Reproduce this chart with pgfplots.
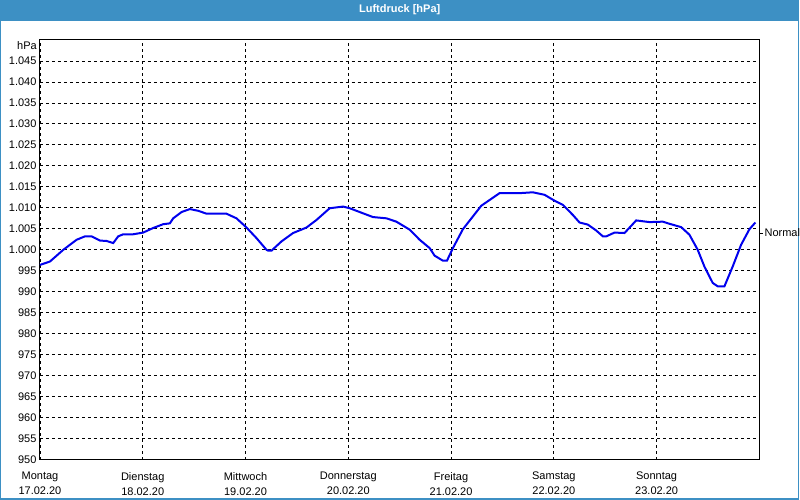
\documentclass[border=0pt]{standalone}
\usepackage{pgfplots}
\pgfplotsset{compat=1.18}
\usepackage{fontspec}
\setmainfont{Liberation Sans}
\definecolor{barc}{HTML}{3D90C4}
\definecolor{linec}{HTML}{0000EE}
\pgfplotstableread{
d p
0 996.4
0.097 997.2
0.227 1000
0.357 1002.4
0.438 1003.2
0.503 1003.2
0.583 1002.2
0.648 1002.1
0.713 1001.6
0.761 1003.2
0.810 1003.7
0.907 1003.7
1.004 1004.1
1.102 1005.2
1.199 1006.1
1.264 1006.3
1.296 1007.5
1.378 1009.0
1.458 1009.7
1.539 1009.3
1.621 1008.6
1.815 1008.6
1.912 1007.5
2.010 1005.3
2.106 1002.8
2.204 1000.0
2.220 999.8
2.253 999.8
2.350 1002.0
2.463 1004.0
2.593 1005.3
2.690 1007.1
2.819 1009.9
2.949 1010.3
3.014 1009.9
3.143 1008.7
3.240 1007.8
3.371 1007.5
3.468 1006.7
3.597 1004.8
3.694 1002.4
3.792 1000.4
3.840 998.6
3.921 997.4
3.960 997.4
4.018 1000.4
4.115 1004.9
4.294 1010.5
4.472 1013.5
4.667 1013.5
4.796 1013.7
4.910 1013.1
5.007 1011.7
5.088 1010.7
5.185 1008.3
5.250 1006.5
5.331 1006.0
5.412 1004.6
5.477 1003.2
5.510 1003.2
5.590 1004.1
5.688 1004.0
5.801 1007.0
5.931 1006.6
6.060 1006.7
6.125 1006.2
6.239 1005.4
6.319 1003.6
6.400 1000.0
6.465 996.0
6.546 992.1
6.594 991.3
6.660 991.3
6.740 996.0
6.822 1001.2
6.903 1004.9
6.961 1006.5
}\datatable
\begin{document}
\begin{tikzpicture}[font=\fontsize{11}{13}\selectfont]
\fill[white] (0pt,0pt) rectangle (800pt,500pt);
\fill[barc] (0pt,480pt) rectangle (800pt,500pt);
\draw[barc, line width=1.5pt] (0.75pt,0.75pt) rectangle (799.25pt,480pt);
\node[white, font=\fontsize{11}{13}\selectfont\bfseries] at (400pt,490pt) {Luftdruck [hPa]};
\begin{axis}[
  at={(40pt,40pt)}, anchor=south west,
  scale only axis, width=720pt, height=420pt,
  xmin=0, xmax=7, ymin=950, ymax=1050,
  xtick={0,1,2,3,4,5,6},
  xticklabels={Montag\\17.02.20,Dienstag\\18.02.20,Mittwoch\\19.02.20,Donnerstag\\20.02.20,Freitag\\21.02.20,Samstag\\22.02.20,Sonntag\\23.02.20},
  ytick={950,955,...,1045},
  yticklabels={950,955,960,965,970,975,980,985,990,995,1.000,1.005,1.010,1.015,1.020,1.025,1.030,1.035,1.040,1.045},
  major tick length=0pt,
  grid=major,
  major grid style={black, line width=0.8pt, dash pattern=on 3pt off 3pt},
  axis line style={black, line width=1pt},
  ticklabel style={font=\fontsize{11}{15}\selectfont},
  xticklabel style={align=center, yshift=-9pt},
  clip=false,
]
\addplot[linec, line width=2pt] table[x=d,y=p] {\datatable};
\draw[black, line width=0.8pt] (axis cs:7,1004) -- ++(4pt,0pt);
\node[anchor=west, inner sep=0pt, xshift=5pt] at (axis cs:7,1004) {Normal};
\node[anchor=north east, inner sep=0pt, xshift=-3pt, yshift=-1pt] at (rel axis cs:0,1) {hPa};
\end{axis}
\end{tikzpicture}
\end{document}
